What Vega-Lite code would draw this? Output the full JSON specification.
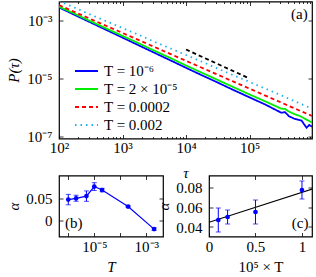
{
  "$schema": "https://vega.github.io/schema/vega-lite/v6.json",
  "padding": {"left": 6, "top": 0.5, "right": 0, "bottom": 0},
  "bounds": "flush",
  "spacing": 37,
  "config": {
    "font": "Liberation Serif",
    "view": {"stroke": "black", "strokeWidth": 1.2},
    "axis": {"grid": false, "domain": false, "labelFont": "Liberation Serif", "labelFontSize": 15, "labelColor": "black", "tickColor": "black", "tickWidth": 0.8, "tickSize": -4, "titleFont": "Liberation Serif", "titleFontSize": 15, "titleFontWeight": "normal", "titleColor": "black", "labelFlush": false, "labelOverlap": false}
  },
  "datasets": {
    "curves": [
      {"T": "T = 10⁻⁶", "tau": 100, "P": 2.818e-3},
      {"T": "T = 10⁻⁶", "tau": 177.8, "P": 1.549e-3},
      {"T": "T = 10⁻⁶", "tau": 316.2, "P": 8.51e-4},
      {"T": "T = 10⁻⁶", "tau": 562.3, "P": 4.68e-4},
      {"T": "T = 10⁻⁶", "tau": 1000, "P": 2.57e-4},
      {"T": "T = 10⁻⁶", "tau": 1778, "P": 1.41e-4},
      {"T": "T = 10⁻⁶", "tau": 3162, "P": 7.76e-5},
      {"T": "T = 10⁻⁶", "tau": 5623, "P": 4.27e-5},
      {"T": "T = 10⁻⁶", "tau": 10000, "P": 2.34e-5},
      {"T": "T = 10⁻⁶", "tau": 17783, "P": 1.29e-5},
      {"T": "T = 10⁻⁶", "tau": 31623, "P": 7.24e-6},
      {"T": "T = 10⁻⁶", "tau": 56234, "P": 3.98e-6},
      {"T": "T = 10⁻⁶", "tau": 100000, "P": 2.24e-6},
      {"T": "T = 10⁻⁶", "tau": 177828, "P": 1.26e-6},
      {"T": "T = 10⁻⁶", "tau": 316228, "P": 6.61e-7},
      {"T": "T = 10⁻⁶", "tau": 363078, "P": 6.92e-7},
      {"T": "T = 10⁻⁶", "tau": 416869, "P": 5.01e-7},
      {"T": "T = 10⁻⁶", "tau": 501187, "P": 4.17e-7},
      {"T": "T = 10⁻⁶", "tau": 575440, "P": 3.80e-7},
      {"T": "T = 10⁻⁶", "tau": 660693, "P": 3.55e-7},
      {"T": "T = 10⁻⁶", "tau": 724436, "P": 2.63e-7},
      {"T": "T = 10⁻⁶", "tau": 794328, "P": 2.00e-7},
      {"T": "T = 10⁻⁶", "tau": 870964, "P": 2.51e-7},
      {"T": "T = 10⁻⁶", "tau": 963000, "P": 2.19e-7},
      {"T": "T = 2 × 10⁻⁵", "tau": 100, "P": 3.02e-3},
      {"T": "T = 2 × 10⁻⁵", "tau": 177.8, "P": 1.70e-3},
      {"T": "T = 2 × 10⁻⁵", "tau": 316.2, "P": 9.33e-4},
      {"T": "T = 2 × 10⁻⁵", "tau": 562.3, "P": 5.25e-4},
      {"T": "T = 2 × 10⁻⁵", "tau": 1000, "P": 2.95e-4},
      {"T": "T = 2 × 10⁻⁵", "tau": 1778, "P": 1.66e-4},
      {"T": "T = 2 × 10⁻⁵", "tau": 3162, "P": 9.12e-5},
      {"T": "T = 2 × 10⁻⁵", "tau": 5623, "P": 5.13e-5},
      {"T": "T = 2 × 10⁻⁵", "tau": 10000, "P": 2.82e-5},
      {"T": "T = 2 × 10⁻⁵", "tau": 17783, "P": 1.58e-5},
      {"T": "T = 2 × 10⁻⁵", "tau": 31623, "P": 8.91e-6},
      {"T": "T = 2 × 10⁻⁵", "tau": 56234, "P": 5.01e-6},
      {"T": "T = 2 × 10⁻⁵", "tau": 100000, "P": 2.82e-6},
      {"T": "T = 2 × 10⁻⁵", "tau": 177828, "P": 1.62e-6},
      {"T": "T = 2 × 10⁻⁵", "tau": 316228, "P": 9.12e-7},
      {"T": "T = 2 × 10⁻⁵", "tau": 363078, "P": 8.91e-7},
      {"T": "T = 2 × 10⁻⁵", "tau": 416869, "P": 7.24e-7},
      {"T": "T = 2 × 10⁻⁵", "tau": 501187, "P": 6.03e-7},
      {"T": "T = 2 × 10⁻⁵", "tau": 630957, "P": 5.01e-7},
      {"T": "T = 2 × 10⁻⁵", "tau": 794328, "P": 3.80e-7},
      {"T": "T = 2 × 10⁻⁵", "tau": 963000, "P": 3.02e-7},
      {"T": "T = 0.0002", "tau": 100, "P": 3.39e-3},
      {"T": "T = 0.0002", "tau": 177.8, "P": 1.95e-3},
      {"T": "T = 0.0002", "tau": 316.2, "P": 1.12e-3},
      {"T": "T = 0.0002", "tau": 562.3, "P": 6.46e-4},
      {"T": "T = 0.0002", "tau": 1000, "P": 3.72e-4},
      {"T": "T = 0.0002", "tau": 1778, "P": 2.14e-4},
      {"T": "T = 0.0002", "tau": 3162, "P": 1.23e-4},
      {"T": "T = 0.0002", "tau": 5623, "P": 7.08e-5},
      {"T": "T = 0.0002", "tau": 10000, "P": 4.07e-5},
      {"T": "T = 0.0002", "tau": 17783, "P": 2.34e-5},
      {"T": "T = 0.0002", "tau": 31623, "P": 1.35e-5},
      {"T": "T = 0.0002", "tau": 56234, "P": 7.76e-6},
      {"T": "T = 0.0002", "tau": 100000, "P": 4.47e-6},
      {"T": "T = 0.0002", "tau": 177828, "P": 2.57e-6},
      {"T": "T = 0.0002", "tau": 316228, "P": 1.48e-6},
      {"T": "T = 0.0002", "tau": 562341, "P": 8.51e-7},
      {"T": "T = 0.0002", "tau": 963000, "P": 5.13e-7},
      {"T": "T = 0.002", "tau": 100, "P": 4.68e-3},
      {"T": "T = 0.002", "tau": 177.8, "P": 2.75e-3},
      {"T": "T = 0.002", "tau": 316.2, "P": 1.58e-3},
      {"T": "T = 0.002", "tau": 562.3, "P": 9.33e-4},
      {"T": "T = 0.002", "tau": 1000, "P": 5.50e-4},
      {"T": "T = 0.002", "tau": 1778, "P": 3.24e-4},
      {"T": "T = 0.002", "tau": 3162, "P": 1.86e-4},
      {"T": "T = 0.002", "tau": 5623, "P": 1.10e-4},
      {"T": "T = 0.002", "tau": 10000, "P": 6.46e-5},
      {"T": "T = 0.002", "tau": 17783, "P": 3.80e-5},
      {"T": "T = 0.002", "tau": 31623, "P": 2.19e-5},
      {"T": "T = 0.002", "tau": 56234, "P": 1.29e-5},
      {"T": "T = 0.002", "tau": 100000, "P": 7.59e-6},
      {"T": "T = 0.002", "tau": 177828, "P": 4.47e-6},
      {"T": "T = 0.002", "tau": 316228, "P": 2.63e-6},
      {"T": "T = 0.002", "tau": 562341, "P": 1.51e-6},
      {"T": "T = 0.002", "tau": 963000, "P": 9.12e-7}
    ],
    "alphaT": [
      {"T": 1e-6, "alpha": 0.047, "lo": 0.035, "hi": 0.059},
      {"T": 2e-6, "alpha": 0.050, "lo": 0.043, "hi": 0.057},
      {"T": 5e-6, "alpha": 0.055, "lo": 0.043, "hi": 0.067},
      {"T": 1e-5, "alpha": 0.077, "lo": 0.068, "hi": 0.086},
      {"T": 2e-5, "alpha": 0.069, "lo": 0.065, "hi": 0.073},
      {"T": 2e-4, "alpha": 0.031, "lo": 0.029, "hi": 0.033},
      {"T": 2e-3, "alpha": -0.021, "lo": -0.024, "hi": -0.018}
    ],
    "alphaC": [
      {"xs": 0.1, "alpha": 0.047, "lo": 0.035, "hi": 0.059},
      {"xs": 0.2, "alpha": 0.050, "lo": 0.043, "hi": 0.057},
      {"xs": 0.5, "alpha": 0.055, "lo": 0.043, "hi": 0.067},
      {"xs": 1.0, "alpha": 0.077, "lo": 0.068, "hi": 0.086}
    ],
    "fit": [
      {"xs": 0, "alpha": 0.0447},
      {"xs": 1.11, "alpha": 0.078}
    ]
  },
  "vconcat": [
    {
      "width": 253,
      "height": 137,
      "resolve": {"axis": {"x": "independent", "y": "independent"}},
      "layer": [
        {
          "data": {"name": "curves"},
          "mark": {"type": "line", "strokeWidth": 1.8, "clip": true},
          "encoding": {
            "x": {"field": "tau", "type": "quantitative", "scale": {"type": "log", "domain": [100, 964000], "nice": false},
                  "axis": {"title": "τ", "titleFontStyle": "italic", "values": [100, 200, 300, 400, 500, 600, 700, 800, 900, 1000, 2000, 3000, 4000, 5000, 6000, 7000, 8000, 9000, 10000, 20000, 30000, 40000, 50000, 60000, 70000, 80000, 90000, 100000, 200000, 300000, 400000, 500000, 600000, 700000, 800000, 900000],
                           "labelExpr": "datum.value == 100 ? '10²' : datum.value == 1000 ? '10³' : datum.value == 10000 ? '10⁴' : datum.value == 100000 ? '10⁵' : ''",
                           "tickSize": {"condition": {"test": "indexof([100, 1000, 10000, 100000], datum.value) >= 0", "value": -4}, "value": -2},
                           "labelPadding": 6, "titlePadding": 8}},
            "y": {"field": "P", "type": "quantitative", "scale": {"type": "log", "domain": [8.53e-8, 4.52e-3], "nice": false},
                  "axis": {"title": "P(τ)", "titleFontStyle": "italic", "values": [1e-7, 1e-5, 1e-3], "labelExpr": "datum.value > 1e-4 ? '10⁻³' : datum.value > 1e-6 ? '10⁻⁵' : '10⁻⁷'", "labelPadding": 11, "titlePadding": 5}},
            "color": {"field": "T", "type": "nominal",
                      "scale": {"domain": ["T = 10⁻⁶", "T = 2 × 10⁻⁵", "T = 0.0002", "T = 0.002"], "range": ["#0000ff", "#00ee00", "#ff0000", "#1cb0f0"]},
                      "legend": {"orient": "none", "legendX": 20, "legendY": 62, "title": null, "padding": 0, "symbolType": "M-2,0H2", "symbolSize": 132, "symbolStrokeWidth": 2, "labelFontSize": 15, "labelFont": "Liberation Serif", "labelOffset": 10, "rowPadding": 2, "labelLimit": 200}},
            "strokeDash": {"field": "T", "type": "nominal",
                      "scale": {"domain": ["T = 10⁻⁶", "T = 2 × 10⁻⁵", "T = 0.0002", "T = 0.002"], "range": [[1, 0], [1, 0], [4, 3], [1.5, 4]]},
                      "legend": {"orient": "none", "legendX": 20, "legendY": 62, "title": null, "padding": 0, "symbolType": "M-2,0H2", "symbolSize": 132, "symbolStrokeWidth": 2, "labelFontSize": 15, "labelFont": "Liberation Serif", "labelOffset": 10, "rowPadding": 2, "labelLimit": 200}}
          }
        },
        {
          "data": {"values": [{"tau": 10000, "P": 0.0001}, {"tau": 100000, "P": 0.00001}]},
          "mark": {"type": "line", "color": "black", "strokeDash": [4, 3], "strokeWidth": 1.8},
          "encoding": {"x": {"field": "tau", "type": "quantitative", "axis": null}, "y": {"field": "P", "type": "quantitative", "axis": null}}
        },
        {
          "data": {"values": [{"tau": 610000, "P": 0.00162, "label": "(a)"}]},
          "mark": {"type": "text", "fontSize": 15, "font": "Liberation Serif"},
          "encoding": {
            "x": {"field": "tau", "type": "quantitative", "axis": {"orient": "top", "labels": false, "title": null, "values": [100, 200, 300, 400, 500, 600, 700, 800, 900, 1000, 2000, 3000, 4000, 5000, 6000, 7000, 8000, 9000, 10000, 20000, 30000, 40000, 50000, 60000, 70000, 80000, 90000, 100000, 200000, 300000, 400000, 500000, 600000, 700000, 800000, 900000],
                   "tickSize": {"condition": {"test": "indexof([100, 1000, 10000, 100000], datum.value) >= 0", "value": -4}, "value": -2}}},
            "y": {"field": "P", "type": "quantitative", "axis": {"orient": "right", "labels": false, "title": null, "values": [1e-7, 1e-5, 1e-3]}},
            "text": {"field": "label"}
          }
        }
      ]
    },
    {
      "hconcat": [
        {
          "width": 104,
          "height": 61,
          "resolve": {"axis": {"x": "independent", "y": "independent"}},
          "layer": [
            {
              "data": {"name": "alphaT"},
              "mark": {"type": "errorbar", "ticks": {"size": 5}, "color": "#0000ff", "thickness": 1},
              "encoding": {
                "x": {"field": "T", "type": "quantitative", "scale": {"type": "log", "domain": [4.4e-7, 4.4e-3], "nice": false}, "axis": null},
                "y": {"field": "lo", "type": "quantitative", "scale": {"domain": [-0.038, 0.1025], "nice": false, "zero": false}, "axis": null},
                "y2": {"field": "hi"}
              }
            },
            {
              "data": {"name": "alphaT"},
              "mark": {"type": "line", "color": "#0000ff", "strokeWidth": 1.2, "point": {"filled": true, "size": 22, "color": "#0000ff"}},
              "encoding": {
                "x": {"field": "T", "type": "quantitative",
                      "axis": {"title": "T", "titleFontStyle": "italic", "values": [1e-6, 1e-5, 1e-4, 1e-3], "labelExpr": "datum.value == 1e-5 ? '10⁻⁵' : datum.value == 1e-3 ? '10⁻³' : ''", "labelPadding": 7, "titlePadding": 5}},
                "y": {"field": "alpha", "type": "quantitative",
                      "axis": {"title": "α", "titleFontStyle": "italic", "values": [0, 0.05], "format": "~g", "labelPadding": 11, "titlePadding": 4}}
              }
            },
            {
              "data": {"values": [{"T": 1.62e-6, "alpha": -0.0076, "label": "(b)"}]},
              "mark": {"type": "text", "fontSize": 15, "font": "Liberation Serif"},
              "encoding": {
                "x": {"field": "T", "type": "quantitative", "axis": {"orient": "top", "labels": false, "title": null, "values": [1e-6, 1e-5, 1e-4, 1e-3]}},
                "y": {"field": "alpha", "type": "quantitative", "axis": {"orient": "right", "labels": false, "title": null, "values": [0, 0.05]}},
                "text": {"field": "label"}
              }
            }
          ]
        },
        {
          "width": 103,
          "height": 61,
          "resolve": {"axis": {"x": "independent", "y": "independent"}},
          "layer": [
            {
              "data": {"name": "fit"},
              "mark": {"type": "line", "color": "black", "strokeWidth": 1.2, "clip": true},
              "encoding": {
                "x": {"field": "xs", "type": "quantitative", "scale": {"domain": [0, 1.108], "nice": false},
                      "axis": {"title": "10⁵ × T", "values": [0, 0.5, 1], "format": "~g", "labelPadding": 7, "titlePadding": 5}},
                "y": {"field": "alpha", "type": "quantitative", "scale": {"domain": [0.0305, 0.0915], "nice": false, "zero": false},
                      "axis": {"title": "α", "titleFontStyle": "italic", "values": [0.04, 0.06, 0.08], "format": ".2f", "labelPadding": 11, "titlePadding": 4}}
              }
            },
            {
              "data": {"name": "alphaC"},
              "mark": {"type": "errorbar", "ticks": {"size": 5}, "color": "#0000ff", "thickness": 1},
              "encoding": {
                "x": {"field": "xs", "type": "quantitative", "axis": null},
                "y": {"field": "lo", "type": "quantitative", "axis": null},
                "y2": {"field": "hi"}
              }
            },
            {
              "data": {"name": "alphaC"},
              "mark": {"type": "point", "filled": true, "size": 22, "color": "#0000ff", "opacity": 1},
              "encoding": {
                "x": {"field": "xs", "type": "quantitative", "axis": null},
                "y": {"field": "alpha", "type": "quantitative", "axis": null}
              }
            },
            {
              "data": {"values": [{"xs": 0.98, "alpha": 0.0443, "label": "(c)"}]},
              "mark": {"type": "text", "fontSize": 15, "font": "Liberation Serif"},
              "encoding": {
                "x": {"field": "xs", "type": "quantitative", "axis": {"orient": "top", "labels": false, "title": null, "values": [0, 0.5, 1]}},
                "y": {"field": "alpha", "type": "quantitative", "axis": {"orient": "right", "labels": false, "title": null, "values": [0.04, 0.06, 0.08]}},
                "text": {"field": "label"}
              }
            }
          ]
        }
      ],
      "spacing": 46,
      "bounds": "flush"
    }
  ]
}
